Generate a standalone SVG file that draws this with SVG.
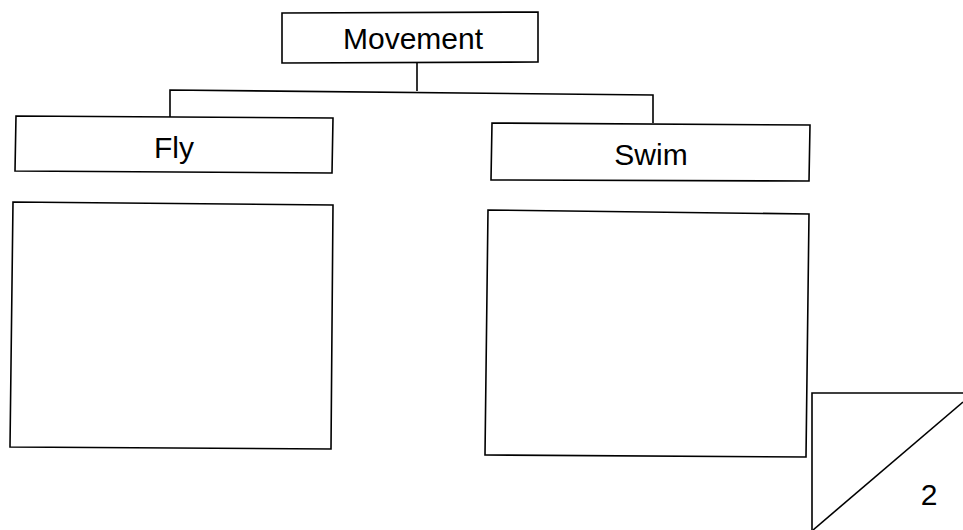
<svg xmlns="http://www.w3.org/2000/svg" width="963" height="530" viewBox="0 0 963 530">
<style>
.box{fill:#fff;stroke:#000;stroke-width:1.6}
.ln{fill:none;stroke:#000;stroke-width:1.6}
.t{font-family:"Liberation Sans",Arial,sans-serif;font-size:30px;fill:#000;text-anchor:middle}
</style>
<rect width="963" height="530" fill="#fff"/>
<g id="connectors">
<path class="ln" d="M417,62 V91"/>
<path class="ln" d="M170,117 V90 L653,95 V123"/>
</g>
<g id="movement">
<path class="box" d="M282,13 L538,12 L538,62 L282,63 Z"/>
<text class="t" x="413" y="49">Movement</text>
</g>
<g id="fly">
<path class="box" d="M16,116 L333,118 L332,173 L15,171 Z"/>
<text class="t" x="174" y="158">Fly</text>
</g>
<g id="swim">
<path class="box" d="M492,123 L810,125 L809,181 L491,180 Z"/>
<text class="t" x="651" y="165">Swim</text>
</g>
<g id="fly-content">
<path class="box" d="M13,202 L333,205 L331,449 L10,447 Z"/>
</g>
<g id="swim-content">
<path class="box" d="M488,210 L809,214 L806,457 L485,455 Z"/>
</g>
<g id="page-corner">
<path class="ln" d="M812,530 V393 H963"/>
<path class="ln" d="M813,530 L963,402"/>
<text class="t" x="929" y="505">2</text>
</g>
</svg>
